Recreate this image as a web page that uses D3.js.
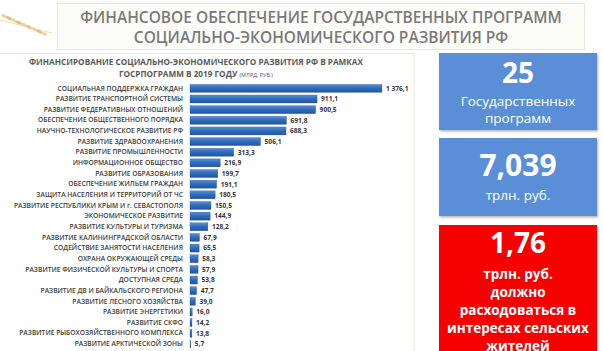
<!DOCTYPE html>
<html>
<head>
<meta charset="utf-8">
<script src="https://cdn.jsdelivr.net/npm/d3@7"></script>
<style>
  body { margin: 0; background: #fff; }
  svg { display: block; font-family: "Open Sans", sans-serif; }
</style>
</head>
<body>
<div id="chart"></div>
<script>
// programmes, sorted as in the picture (billion rub.)
const programs = [
  "СОЦИАЛЬНАЯ ПОДДЕРЖКА ГРАЖДАН",
  "РАЗВИТИЕ ТРАНСПОРТНОЙ СИСТЕМЫ",
  "РАЗВИТИЕ ФЕДЕРАТИВНЫХ ОТНОШЕНИЙ",
  "ОБЕСПЕЧЕНИЕ ОБЩЕСТВЕННОГО ПОРЯДКА",
  "НАУЧНО-ТЕХНОЛОГИЧЕСКОЕ РАЗВИТИЕ РФ",
  "РАЗВИТИЕ ЗДРАВООХРАНЕНИЯ",
  "РАЗВИТИЕ ПРОМЫШЛЕННОСТИ",
  "ИНФОРМАЦИОННОЕ ОБЩЕСТВО",
  "РАЗВИТИЕ ОБРАЗОВАНИЯ",
  "ОБЕСПЕЧЕНИЕ ЖИЛЬЕМ ГРАЖДАН",
  "ЗАЩИТА НАСЕЛЕНИЯ И ТЕРРИТОРИЙ ОТ ЧС",
  "РАЗВИТИЕ РЕСПУБЛИКИ КРЫМ И г. СЕВАСТОПОЛЯ",
  "ЭКОНОМИЧЕСКОЕ РАЗВИТИЕ",
  "РАЗВИТИЕ КУЛЬТУРЫ И ТУРИЗМА",
  "РАЗВИТИЕ КАЛИНИНГРАДСКОЙ ОБЛАСТИ",
  "СОДЕЙСТВИЕ ЗАНЯТОСТИ НАСЕЛЕНИЯ",
  "ОХРАНА ОКРУЖАЮЩЕЙ СРЕДЫ",
  "РАЗВИТИЕ ФИЗИЧЕСКОЙ КУЛЬТУРЫ И СПОРТА",
  "ДОСТУПНАЯ СРЕДА",
  "РАЗВИТИЕ ДВ И БАЙКАЛЬСКОГО РЕГИОНА",
  "РАЗВИТИЕ ЛЕСНОГО ХОЗЯЙСТВА",
  "РАЗВИТИЕ ЭНЕРГЕТИКИ",
  "РАЗВИТИЕ СКФО",
  "РАЗВИТИЕ РЫБОХОЗЯЙСТВЕННОГО КОМПЛЕКСА",
  "РАЗВИТИЕ АРКТИЧЕСКОЙ ЗОНЫ"
];
const funding = [1376.1, 911.1, 900.5, 691.8, 688.3, 506.1, 313.3, 216.9, 199.7, 191.1,
  180.5, 150.5, 144.9, 128.2, 67.9, 65.5, 58.3, 57.9, 53.8, 47.7, 39.0, 16.0, 14.2, 13.8, 5.7];

const titleLines = ["ФИНАНСОВОЕ ОБЕСПЕЧЕНИЕ ГОСУДАРСТВЕННЫХ ПРОГРАММ", "СОЦИАЛЬНО-ЭКОНОМИЧЕСКОГО РАЗВИТИЯ РФ"];
const chartTitle = ["ФИНАНСИРОВАНИЕ СОЦИАЛЬНО-ЭКОНОМИЧЕСКОГО РАЗВИТИЯ РФ В РАМКАХ", "ГОСРПОГРАММ В 2019 ГОДУ"];
const chartUnit = "(МЛРД. РУБ.)";

const width = 603, height = 351;

const svg = d3.select("#chart").append("svg")
  .attr("width", width)
  .attr("height", height);

const defs = svg.append("defs");
const grad = defs.append("linearGradient")
  .attr("id", "barGrad")
  .attr("x1", 0).attr("x2", 0).attr("y1", 0).attr("y2", 1);
grad.append("stop").attr("offset", "0%").attr("stop-color", "#5a8fd6");
grad.append("stop").attr("offset", "45%").attr("stop-color", "#2f6dbd");
grad.append("stop").attr("offset", "100%").attr("stop-color", "#21559c");

const shadow = defs.append("filter").attr("id", "shadow")
  .attr("x", "-10%").attr("y", "-10%").attr("width", "130%").attr("height", "130%");
shadow.append("feDropShadow")
  .attr("dx", 1).attr("dy", 1.5).attr("stdDeviation", 1.2)
  .attr("flood-color", "#000").attr("flood-opacity", 0.3);

// wheat decoration, top left
const wheat = svg.append("g").attr("class", "wheat");
d3.range(9).forEach(i => {
  wheat.append("ellipse")
    .attr("cx", 4 + i * 5)
    .attr("cy", 16 + i * 2.2)
    .attr("rx", 3.2).attr("ry", 1.6)
    .attr("transform", `rotate(25, ${4 + i * 5}, ${16 + i * 2.2})`)
    .attr("fill", i % 2 ? "#e2b364" : "#f0cd8a")
    .attr("opacity", 0.85);
});
wheat.append("line")
  .attr("x1", 0).attr("y1", 20).attr("x2", 52).attr("y2", 33)
  .attr("stroke", "#ecd3a2").attr("stroke-width", 0.8);

// main title box
svg.append("rect")
  .attr("x", 57.5).attr("y", 3.5)
  .attr("width", 527).attr("height", 46)
  .attr("fill", "#fcfdf8")
  .attr("stroke", "#e3e9d6");

svg.selectAll(".main-title")
  .data(titleLines)
  .enter().append("text")
  .attr("class", "main-title")
  .attr("x", 321)
  .attr("y", (d, i) => 23 + i * 20)
  .attr("text-anchor", "middle")
  .attr("font-size", 15.5)
  .attr("font-weight", 600)
  .attr("fill", "#7a7a7a")
  .text(d => d);

// chart panel
svg.append("rect")
  .attr("x", -2).attr("y", 53.5)
  .attr("width", 416).attr("height", 310)
  .attr("fill", "#fff")
  .attr("stroke", "#e3e9d6");

const ct = svg.append("text")
  .attr("x", 196)
  .attr("text-anchor", "middle")
  .attr("font-weight", 700)
  .attr("fill", "#595959")
  .attr("font-size", 8.2);
ct.append("tspan").attr("x", 196).attr("y", 65).text(chartTitle[0]);
ct.append("tspan").attr("x", 196).attr("y", 77).text(chartTitle[1] + " ");
ct.append("tspan").attr("font-size", 5.5).attr("font-weight", 400).text(chartUnit);

// scales
const y = d3.scaleBand()
  .domain(programs)
  .range([83.3, 349])
  .paddingInner(0.25)
  .paddingOuter(0.1);

const x = d3.scaleLinear()
  .domain([0, 1400])
  .range([190, 385.3]);

const ru = d3.formatLocale({ decimal: ",", thousands: " ", grouping: [3], currency: ["", ""] });
const fmt = ru.format(",.1f");

// category labels through a left axis
const yAxis = svg.append("g")
  .attr("transform", `translate(${x(0)},0)`)
  .call(d3.axisLeft(y).tickSize(0).tickPadding(7));
yAxis.select(".domain").remove();
yAxis.selectAll("text")
  .attr("font-family", "Open Sans, sans-serif")
  .attr("font-size", 6.7)
  .attr("font-weight", 600)
  .attr("fill", "#3a3a3a");

const rows = programs.map((p, i) => ({ name: p, value: funding[i] }));

svg.append("g")
  .selectAll("rect")
  .data(rows)
  .enter().append("rect")
  .attr("x", x(0))
  .attr("y", d => y(d.name))
  .attr("width", d => x(d.value) - x(0))
  .attr("height", y.bandwidth())
  .attr("fill", "url(#barGrad)")
  .attr("stroke", "#1f4f8f")
  .attr("stroke-width", 0.3);

svg.append("g")
  .selectAll("text")
  .data(rows)
  .enter().append("text")
  .attr("x", d => x(d.value) + 4)
  .attr("y", d => y(d.name) + y.bandwidth() / 2)
  .attr("dy", "0.35em")
  .attr("font-size", 6.6)
  .attr("font-weight", 700)
  .attr("fill", "#333")
  .text(d => fmt(d.value));

// summary boxes on the right
const boxes = [
  { y: 53, h: 77, fill: "#5a8fd8", big: "25", bigSize: 28, bigY: 83,
    lines: ["Государственных", "программ"], lineY: 106, lineStep: 17, size: 13.5, bold: false },
  { y: 138, h: 78, fill: "#5a8fd8", big: "7,039", bigSize: 30, bigY: 176,
    lines: ["трлн. руб."], lineY: 200, lineStep: 17, size: 13.5, bold: false },
  { y: 225, h: 140, fill: "#f60000", big: "1,76", bigSize: 28, bigY: 253,
    lines: ["трлн. руб.", "должно", "расходоваться в", "интересах сельских", "жителей"],
    lineY: 279, lineStep: 18, size: 13.5, bold: true }
];

boxes.forEach(b => {
  const g = svg.append("g");
  g.append("rect")
    .attr("x", 439).attr("y", b.y)
    .attr("width", 158).attr("height", b.h)
    .attr("fill", b.fill)
    .attr("filter", "url(#shadow)");
  g.append("text")
    .attr("x", 518).attr("y", b.bigY)
    .attr("text-anchor", "middle")
    .attr("font-size", b.bigSize)
    .attr("font-weight", 700)
    .attr("fill", "#fff")
    .text(b.big);
  g.selectAll(".sub")
    .data(b.lines)
    .enter().append("text")
    .attr("x", 518)
    .attr("y", (d, i) => b.lineY + i * b.lineStep)
    .attr("text-anchor", "middle")
    .attr("font-size", b.size)
    .attr("font-weight", b.bold ? 700 : 400)
    .attr("fill", "#fff")
    .text(d => d);
});
</script>
</body>
</html>
